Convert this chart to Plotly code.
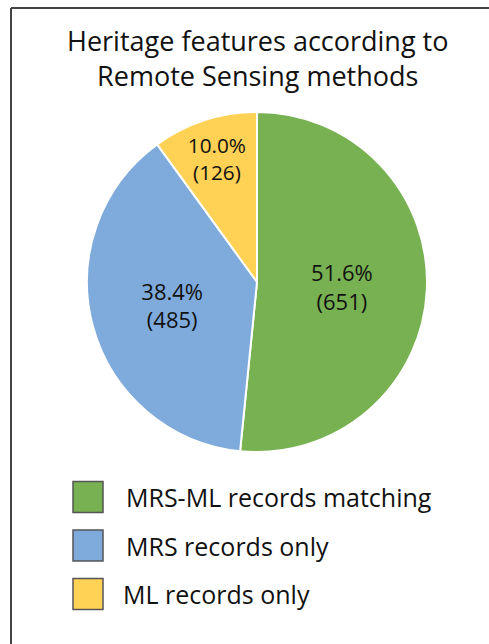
import plotly.graph_objects as go

categories = ["MRS-ML records matching", "MRS records only", "ML records only"]
counts = [651, 485, 126]
percents = ["51.6%", "38.4%", "10.0%"]
colors = ["#78B152", "#7EABDB", "#FFD154"]
title_text = "Heritage features according to<br>Remote Sensing methods"

W, H = 489, 644
FONT = "Open Sans"

fig = go.Figure()
fig.add_trace(go.Pie(
    labels=categories,
    values=counts,
    text=[f"{p}<br>({c})" for p, c in zip(percents, counts)],
    textinfo="text",
    textposition="inside",
    insidetextorientation="horizontal",
    textfont=dict(family=FONT, size=22, color="#111111"),
    marker=dict(colors=colors, line=dict(color="white", width=2)),
    sort=False,
    direction="clockwise",
    rotation=0,
    showlegend=False,
    domain=dict(x=[87 / W, 427 / W], y=[(H - 452) / H, (H - 112) / H]),
    hoverinfo="label+value+percent",
))

shapes = [
    dict(type="line", xref="paper", yref="paper", x0=11 / W, x1=1.0, y0=1 - 8 / H, y1=1 - 8 / H,
         line=dict(color="#444444", width=2)),
    dict(type="line", xref="paper", yref="paper", x0=11 / W, x1=11 / W, y0=0, y1=1 - 8 / H,
         line=dict(color="#444444", width=2)),
]
annotations = [dict(text=title_text, xref="paper", yref="paper", x=257 / W, y=1 - 58.5 / H,
                    xanchor="center", yanchor="middle", showarrow=False,
                    font=dict(family=FONT, size=27, color="#111111"))]

leg_y = [497, 545.5, 594]
leg_tx = [124, 124, 121]
for i, (cat, col) in enumerate(zip(categories, colors)):
    yc = leg_y[i]
    shapes.append(dict(type="rect", xref="paper", yref="paper",
                       x0=73 / W, x1=103 / W, y0=1 - (yc + 15.5) / H, y1=1 - (yc - 15.5) / H,
                       fillcolor=col, line=dict(color="#555555", width=1.5)))
    annotations.append(dict(text=cat, xref="paper", yref="paper", x=leg_tx[i] / W, y=1 - yc / H,
                            xanchor="left", yanchor="middle", showarrow=False,
                            font=dict(family=FONT, size=25, color="#111111")))

fig.update_layout(
    width=W, height=H,
    margin=dict(l=0, r=0, t=0, b=0),
    paper_bgcolor="white", plot_bgcolor="white",
    shapes=shapes, annotations=annotations,
    showlegend=False,
)
fig.write_html("out.html", config={"displayModeBar": False},
               post_script="document.body.style.margin='0';")
